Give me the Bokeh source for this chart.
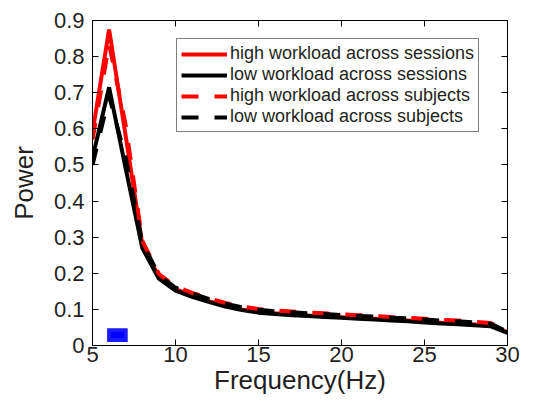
import numpy as np
from bokeh.plotting import figure
from bokeh.models import (Range1d, FixedTicker, CustomJSTickFormatter, LinearAxis,
                          Legend, LegendItem)
from bokeh.embed import file_html
from bokeh.resources import INLINE

# ---- data ----
freq = [5, 6, 7, 8, 9, 10, 11, 12, 13, 14, 15, 16, 17, 18, 19, 20,
        21, 22, 23, 24, 25, 26, 27, 28, 29, 30]
high_sessions = [0.59, 0.875, 0.58, 0.28, 0.19, 0.156, 0.138, 0.123, 0.110, 0.100,
                 0.093, 0.089, 0.086, 0.083, 0.081, 0.078, 0.076, 0.074, 0.071,
                 0.069, 0.066, 0.063, 0.061, 0.058, 0.055, 0.037]
low_sessions = [0.52, 0.715, 0.49, 0.27, 0.185, 0.152, 0.135, 0.121, 0.108, 0.098,
                0.091, 0.087, 0.084, 0.082, 0.079, 0.077, 0.074, 0.072, 0.069,
                0.067, 0.064, 0.061, 0.059, 0.056, 0.053, 0.035]
high_subjects = [0.57, 0.835, 0.61, 0.29, 0.198, 0.163, 0.146, 0.131, 0.118, 0.108,
                 0.101, 0.097, 0.094, 0.091, 0.089, 0.086, 0.084, 0.082, 0.079,
                 0.077, 0.074, 0.071, 0.069, 0.066, 0.062, 0.040]
low_subjects = [0.50, 0.69, 0.52, 0.285, 0.195, 0.160, 0.144, 0.129, 0.116, 0.106,
                0.099, 0.095, 0.092, 0.089, 0.087, 0.084, 0.082, 0.080, 0.077,
                0.075, 0.072, 0.069, 0.067, 0.064, 0.060, 0.038]
labels = ["high workload across sessions", "low workload across sessions",
          "high workload across subjects", "low workload across subjects"]
sig_band = [6, 7]          # significant frequency band (blue marker)
sig_marker = [0.0155, 0.0425]
x_ticks = [5, 10, 15, 20, 25, 30]
y_ticks = [0, 0.1, 0.2, 0.3, 0.4, 0.5, 0.6, 0.7, 0.8, 0.9]

FONT = "Liberation Sans"
TXT = "#231f20"

p = figure(width=521, height=397, output_backend="svg", toolbar_location=None,
           x_range=Range1d(5, 30), y_range=Range1d(0, 0.9),
           min_border_left=92, min_border_right=14, min_border_top=20,
           min_border_bottom=52)
p.grid.visible = False
p.outline_line_color = "black"
p.outline_line_width = 1
p.background_fill_color = "white"
p.border_fill_color = "white"

r1 = p.line(freq, high_sessions, line_color="#ff0000", line_width=4)
r2 = p.line(freq, low_sessions, line_color="black", line_width=4)
r3 = p.line(freq, high_subjects, line_color="#ff0000", line_width=4, line_dash="17 16")
r4 = p.line(freq, low_subjects, line_color="black", line_width=4, line_dash="17 16")

p.quad(left=[sig_band[0]], right=[sig_band[1]], bottom=[sig_marker[0]], top=[sig_marker[1]],
       fill_color="#0000ff", line_color="#1a1aff", line_width=4, line_join="miter")

fmt = CustomJSTickFormatter(code="return Math.abs(tick) < 1e-9 ? '0' : (Number.isInteger(tick) ? tick.toString() : tick.toFixed(1));")

for ax in (p.xaxis[0], p.yaxis[0]):
    ax.major_tick_in = 6
    ax.major_tick_out = 0
    ax.minor_tick_line_color = None
    ax.axis_line_color = "black"
    ax.major_label_text_font = FONT
    ax.major_label_text_font_size = "22px"
    ax.major_label_text_color = TXT
    ax.axis_label_text_font = FONT
    ax.axis_label_text_font_size = "26px"
    ax.axis_label_text_font_style = "normal"
    ax.axis_label_text_color = TXT
    ax.formatter = fmt

p.xaxis[0].ticker = FixedTicker(ticks=x_ticks)
p.yaxis[0].ticker = FixedTicker(ticks=y_ticks)
p.xaxis[0].axis_label = "Frequency(Hz)"
p.yaxis[0].axis_label = "Power"
p.xaxis[0].major_label_standoff = 1
p.xaxis[0].axis_label_standoff = 0
p.yaxis[0].major_label_standoff = 8
p.yaxis[0].axis_label_standoff = 12

top = LinearAxis(ticker=FixedTicker(ticks=x_ticks), major_label_text_font_size="0px",
                 major_tick_in=6, major_tick_out=0, minor_tick_line_color=None)
right = LinearAxis(ticker=FixedTicker(ticks=y_ticks), major_label_text_font_size="0px",
                   major_tick_in=6, major_tick_out=0, minor_tick_line_color=None)
top.major_label_text_color = None
right.major_label_text_color = None
p.add_layout(top, "above")
p.add_layout(right, "right")

legend = Legend(items=[LegendItem(label=l, renderers=[r]) for l, r in zip(labels, [r1, r2, r3, r4])],
                location=(84, 213), orientation="vertical")
legend.label_text_font = FONT
legend.label_text_font_size = "18px"
legend.label_text_color = TXT
legend.label_text_line_height = 1.0
legend.label_height = 16
legend.glyph_height = 16
legend.glyph_width = 46
legend.label_standoff = 3
legend.spacing = 0
legend.padding = 4
legend.margin = 0
legend.border_line_color = "black"
legend.border_line_width = 1
legend.background_fill_alpha = 1.0
p.add_layout(legend, "center")

open("out.html", "w").write(file_html(p, INLINE))
